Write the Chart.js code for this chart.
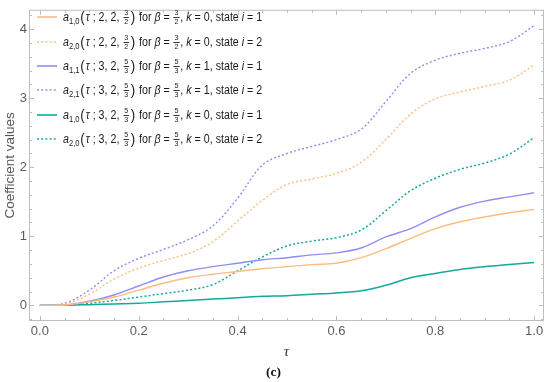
<!DOCTYPE html>
<html><head><meta charset="utf-8">
<script src="https://cdn.jsdelivr.net/npm/chart.js@4.4.0/dist/chart.umd.min.js"></script>
<style>
html,body{margin:0;padding:0;background:#fff;}
#wrap{position:relative;width:550px;height:382px;overflow:hidden;}
canvas{position:absolute;left:0;top:0;}
#legend{position:absolute;left:0;top:0;font-family:"Liberation Sans",Arial,sans-serif;font-size:12px;color:#1a1a1a;}
.row{position:absolute;left:37px;height:22px;display:flex;align-items:center;white-space:nowrap;}
.row svg{margin-right:6px;flex:none;}
.txt{display:inline-block;white-space:nowrap;transform:scaleX(0.89);transform-origin:0 50%;}
.it{font-style:italic;}
.fr{display:inline-flex;flex-direction:column;align-items:center;vertical-align:middle;font-size:8px;line-height:8px;margin:0 1px;}
.fr span:first-child{border-bottom:0.8px solid #333;padding:0 1px;}
.pa{font-size:15px;vertical-align:-1px;margin:0 1px;}
sub{font-size:8.5px;vertical-align:-3px;line-height:0;}
#cap{position:absolute;left:266px;top:364px;font-family:"Liberation Serif",serif;font-weight:bold;font-size:13.5px;color:#111;}
</style></head>
<body>
<div id="wrap">
<canvas id="c" width="550" height="382"></canvas>
<div id="legend"></div>
<div id="cap">(c)</div>
</div>
<script>
// ---- data ----
const tau = [0,0.05,0.1,0.15,0.2,0.25,0.3,0.35,0.4,0.45,0.5,0.55,0.6,0.65,0.7,0.75,0.8,0.85,0.9,0.95,1.0];
const a10_b32 = [0,0.004,0.05,0.12,0.22,0.32,0.40,0.45,0.49,0.53,0.56,0.59,0.61,0.69,0.82,0.97,1.11,1.21,1.28,1.34,1.39];
const a20_b32 = [0,0.02,0.16,0.38,0.54,0.65,0.75,0.92,1.22,1.52,1.75,1.83,1.91,2.07,2.40,2.77,2.99,3.09,3.17,3.26,3.48];
const a11_b53 = [0,0.005,0.06,0.15,0.28,0.41,0.50,0.56,0.61,0.66,0.69,0.73,0.76,0.83,0.99,1.11,1.28,1.42,1.51,1.57,1.63];
const a21_b53 = [0,0.03,0.22,0.50,0.68,0.81,0.95,1.15,1.55,2.03,2.20,2.30,2.40,2.55,2.95,3.36,3.55,3.65,3.72,3.82,4.05];
const a10_b53 = [0,0.001,0.01,0.02,0.03,0.05,0.07,0.09,0.11,0.13,0.14,0.16,0.18,0.21,0.29,0.40,0.46,0.52,0.56,0.59,0.62];
const a20_b53 = [0,0.003,0.03,0.07,0.12,0.17,0.22,0.30,0.50,0.70,0.86,0.93,0.98,1.09,1.37,1.66,1.84,1.97,2.06,2.19,2.43];
const xTicks = [0,0.2,0.4,0.6,0.8,1.0];
const yTicks = [0,1,2,3,4];
// legend parts: subscript, params, frac, k, state
const legSub = ["1,0","2,0","1,1","2,1","1,0","2,0"];
const legP = ["2, 2","2, 2","3, 2","3, 2","3, 2","3, 2"];
const legFrac = [[3,2],[3,2],[5,3],[5,3],[5,3],[5,3]];
const legK = [0,0,1,1,0,0];
const legState = [1,2,1,2,1,2];

const cOr = '#FCBC80', cBl = '#8E8EF4', cTe = '#14A89E';
const series = [a10_b32,a20_b32,a11_b53,a21_b53,a10_b53,a20_b53];
const colors = [cOr,cOr,cBl,cBl,cTe,cTe];
const dotted = [false,true,false,true,false,true];

const datasets = series.map((s,i)=>({
  data: s.map((v,j)=>({x:tau[j],y:v})),
  borderColor: colors[i],
  borderWidth: i>=4 ? 1.5 : 1.4,
  borderDash: dotted[i] ? [2,2.2] : [],
  pointRadius: 0,
  tension: 0.35,
  fill: false
}));

const frame = {
  id:'frame',
  afterDatasetsDraw(chart){
    const {ctx, chartArea:a, scales:{x,y}} = chart;
    ctx.save();
    ctx.strokeStyle = '#bdbdbd';
    ctx.lineWidth = 1;
    ctx.strokeRect(a.left+0.5, a.top+0.5, a.right-a.left-1, a.bottom-a.top-1);
    ctx.beginPath();
    for (let k=-1;k<=21;k++){
      const v = k*0.05; const px = Math.round(x.getPixelForValue(v))+0.5;
      if (px<a.left+1||px>a.right-1) continue;
      const L = (k%4===0)?5:3;
      ctx.moveTo(px,a.bottom); ctx.lineTo(px,a.bottom-L);
      ctx.moveTo(px,a.top); ctx.lineTo(px,a.top+L);
    }
    for (let k=-2;k<=22;k++){
      const v = k*0.2; const py = Math.round(y.getPixelForValue(v))+0.5;
      if (py<a.top+1||py>a.bottom-1) continue;
      const L = (k%5===0)?5:3;
      ctx.moveTo(a.left,py); ctx.lineTo(a.left+L,py);
      ctx.moveTo(a.right,py); ctx.lineTo(a.right-L,py);
    }
    ctx.stroke();
    ctx.restore();
  }
};

new Chart(document.getElementById('c'), {
  type:'line',
  data:{datasets},
  options:{
    responsive:false, animation:false, devicePixelRatio:1,
    layout:{padding:{top:3,right:6,left:0,bottom:0}},
    plugins:{legend:{display:false},tooltip:{enabled:false}},
    scales:{
      x:{type:'linear',min:-0.022,max:1.02,
        grid:{display:false,drawTicks:false},border:{display:false},
        afterBuildTicks(s){ s.ticks = xTicks.map(v=>({value:v})); },
        afterFit(s){ s.height = 61; },
        ticks:{padding:3,color:'#5c5c5c',font:{family:'Liberation Sans',size:13},maxRotation:0,
          callback:(v)=>Number(v).toFixed(1)},
        title:{display:true,text:'τ',color:'#333',font:{family:'Liberation Serif',size:15,style:'italic'},padding:{top:0,bottom:21}}
      },
      y:{type:'linear',min:-0.227,max:4.28,
        grid:{display:false,drawTicks:false},border:{display:false},
        afterBuildTicks(s){ s.ticks = yTicks.map(v=>({value:v})); },
        afterFit(s){ s.width = 29; },
        ticks:{padding:2,color:'#5c5c5c',font:{family:'Liberation Sans',size:13},
          callback:(v)=>String(v)},
        title:{display:true,text:'Coefficient values',color:'#555',font:{family:'Liberation Sans',size:13.5},padding:{top:2,bottom:0}}
      }
    }
  },
  plugins:[frame]
});

// legend
const rowsY = [17,42,66,90,115,139];
const leg = document.getElementById('legend');
const fr = (p)=>`<span class="fr"><span>${p[0]}</span><span>${p[1]}</span></span>`;
for (let i=0;i<6;i++){
  const d = document.createElement('div');
  d.className='row';
  d.style.top = (rowsY[i]-11)+'px';
  const dash = dotted[i] ? 'stroke-dasharray="2 2.2"' : '';
  d.innerHTML = `<svg width="20" height="4"><line x1="0" y1="2" x2="20" y2="2" stroke="${colors[i]}" stroke-width="1.6" ${dash}/></svg>`+
    `<span class="txt"><span class="it">a</span><sub>${legSub[i]}</sub><span class="pa">(</span><span class="it">τ</span> ; ${legP[i]}, ${fr(legFrac[i])}<span class="pa">)</span> for <span class="it">β</span> = ${fr(legFrac[i])}, <span class="it">k</span> = ${legK[i]}, state <span class="it">i</span> = ${legState[i]}</span>`;
  leg.appendChild(d);
}
</script>
</body></html>
